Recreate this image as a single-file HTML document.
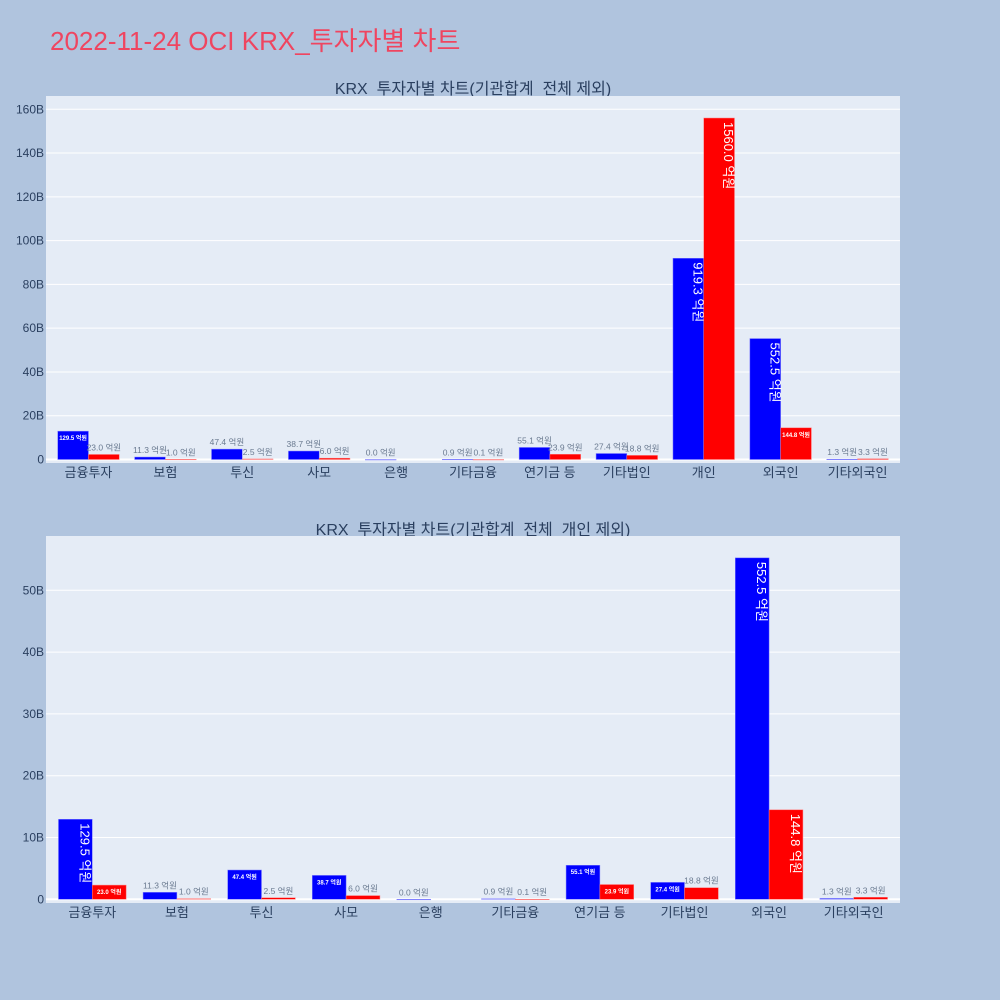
<!DOCTYPE html>
<html><head><meta charset="utf-8">
<style>
html,body{margin:0;padding:0;background:#b0c4de;}
svg{display:block;font-family:"Liberation Sans","Noto Sans CJK KR",sans-serif;}
</style></head><body>
<svg id="chart" width="1000" height="1000" viewBox="0 0 1000 1000" xmlns="http://www.w3.org/2000/svg">
<rect x="0" y="0" width="1000" height="1000" fill="#b0c4de"/>
<text x="50" y="50" font-size="26" fill="#ef4560">2022-11-24 OCI KRX_투자자별 차트</text>
<text x="473" y="94" font-size="16" fill="#2a3f5f" text-anchor="middle">KRX_투자자별 차트(기관합계_전체 제외)</text>
<text x="473" y="535" font-size="16" fill="#2a3f5f" text-anchor="middle">KRX_투자자별 차트(기관합계_전체_개인 제외)</text>
<g id="p1"></g><g id="p2"></g>
</svg>
<script>
const categories1 = ["금융투자","보험","투신","사모","은행","기타금융","연기금 등","기타법인","개인","외국인","기타외국인"];
const blue1 = [129.5,11.3,47.4,38.7,0.0,0.9,55.1,27.4,919.3,552.5,1.3];
const red1 = [23.0,1.0,2.5,6.0,null,0.1,23.9,18.8,1560.0,144.8,3.3];
const ticks1 = [0,20,40,60,80,100,120,140,160];
const categories2 = ["금융투자","보험","투신","사모","은행","기타금융","연기금 등","기타법인","외국인","기타외국인"];
const blue2 = [129.5,11.3,47.4,38.7,0.0,0.9,55.1,27.4,552.5,1.3];
const red2 = [23.0,1.0,2.5,6.0,null,0.1,23.9,18.8,144.8,3.3];
const ticks2 = [0,10,20,30,40,50];
const NS="http://www.w3.org/2000/svg";
function mk(parent,tag,attrs){const e=document.createElementNS(NS,tag);for(const k in attrs)e.setAttribute(k,attrs[k]);parent.appendChild(e);return e;}
function draw(gid,cats,blue,red,ticks,cfg){
  const g=document.getElementById(gid);
  const bg=mk(g,'rect',{x:46,y:cfg.top,width:854,height:cfg.bottom-cfg.top,fill:'#e5ecf6'});
  
  
  const y=v=>cfg.zero-v/10*cfg.pxPerB; // v in 억원 -> B = v/10
  ticks.forEach(t=>{
    const yy=cfg.zero-t*cfg.pxPerB;
    const l=mk(g,'line',{x1:46,x2:900,y1:yy,y2:yy,stroke:'#fff','stroke-width':t===0?2:1});
    
    
    const tx=mk(g,'text',{x:44,y:yy+4,'font-size':12,fill:'#2a3f5f','text-anchor':'end'});
    tx.textContent=t+(t===0?'':'B');
    
    
  });
  const x0=50,x1=896,w=(x1-x0)/cats.length,bw=w*0.4;
  cats.forEach((c,i)=>{
    const cx=x0+w*(i+0.5);
    const t=mk(g,'text',{x:cx,y:cfg.bottom+14,'font-size':13,fill:'#2a3f5f','text-anchor':'middle'});
    t.textContent=c;
    
    
    [[blue[i],'#0000ff',cx-bw,'blue'],[red[i],'#ff0000',cx,'red']].forEach(([v,col,bx,nm])=>{
      if(v===null)return;
      const top=y(v),h=cfg.zero-top;
      const r=mk(g,'rect',{x:bx,y:top,width:bw,height:Math.max(h,0.5),fill:col,stroke:col==='#0000ff'?'#8080ff':'#ff8080','stroke-width':0.5});
      
      
      const label=v.toFixed(1)+' 억원';
      let tx;
      if(h>70){
        tx=mk(g,'text',{x:0,y:0,'font-size':13,fill:'#fff',transform:`translate(${bx+bw/2+5},${top+4}) rotate(90)`});
      }else if(h>=cfg.inThresh){
        tx=mk(g,'text',{x:bx+bw/2,y:top+9,'font-size':6,'font-weight':'bold',fill:'#fff','text-anchor':'middle'});
      }else{
        tx=mk(g,'text',{x:bx+bw/2,y:top-4,'font-size':8.5,fill:'#6a7a90','text-anchor':'middle'});
      }
      tx.textContent=label;
      
      
    });
  });
}
draw('p1',categories1,blue1,red1,ticks1,{top:96,bottom:463,zero:459.5,pxPerB:43.78/20*1,inThresh:26});
draw('p2',categories2,blue2,red2,ticks2,{top:536,bottom:903,zero:899.3,pxPerB:6.18,inThresh:13});
</script>
</body></html>
